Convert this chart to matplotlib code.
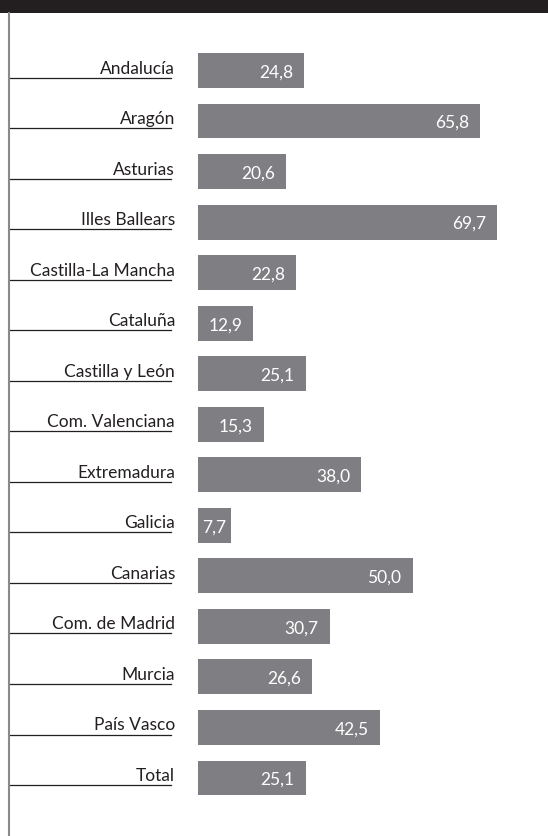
import matplotlib.pyplot as plt
from matplotlib.transforms import blended_transform_factory

# data
regions = ['Andalucía', 'Aragón', 'Asturias', 'Illes Ballears', 'Castilla-La Mancha',
           'Cataluña', 'Castilla y León', 'Com. Valenciana', 'Extremadura', 'Galicia',
           'Canarias', 'Com. de Madrid', 'Murcia', 'País Vasco', 'Total']
values = [24.8, 65.8, 20.6, 69.7, 22.8, 12.9, 25.1, 15.3, 38.0, 7.7,
          50.0, 30.7, 26.6, 42.5, 25.1]

W, H = 548, 837
bar_color = '#7f7f83'
dark = '#231f20'

plt.rcParams['font.family'] = ['Lato', 'DejaVu Sans']

fig = plt.figure(figsize=(W / 100, H / 100), dpi=100)
fig.patch.set_facecolor('white')

# bars axes: x=0 at 198 px, 4.29 px per unit
ax = fig.add_axes([198 / W, 0, (W - 198) / W, 1])
ax.set_xlim(0, (W - 198) / 4.29)
step = 50.54
ax.set_ylim(14 + (H - 779) / step, -71.5 / step)
ax.axis('off')

pos = list(range(len(regions)))
ax.barh(pos, values, height=0.69, color=bar_color, linewidth=0)

for p, v in zip(pos, values):
    off = -11 if v >= 10 else -5
    ax.annotate(f'{v:.1f}'.replace('.', ','), xy=(v, p), xytext=(off, -1),
                textcoords='offset pixels', ha='right', va='center',
                color='white', fontsize=12.5)

# region labels with underline on the left
tr = blended_transform_factory(fig.transFigure, ax.transData)
for p, name in zip(pos, regions):
    ax.text(175 / W, p + 0.04, name, transform=tr, ha='right', va='baseline',
            fontsize=12.5, color=dark)
    ax.plot([9 / W, 171 / W], [p + 0.14, p + 0.14], transform=tr,
            color=dark, lw=0.9, clip_on=False)

# left border and header band
fig.add_artist(plt.Line2D([9 / W, 9 / W], [0, 1 - 14 / H], transform=fig.transFigure,
                          color='#8a8a8a', lw=1.5))
fig.add_artist(plt.Rectangle((0, 1 - 14 / H), 1, 14 / H, transform=fig.transFigure,
                             color=dark, lw=0))

fig.savefig('out.png', dpi=100)
